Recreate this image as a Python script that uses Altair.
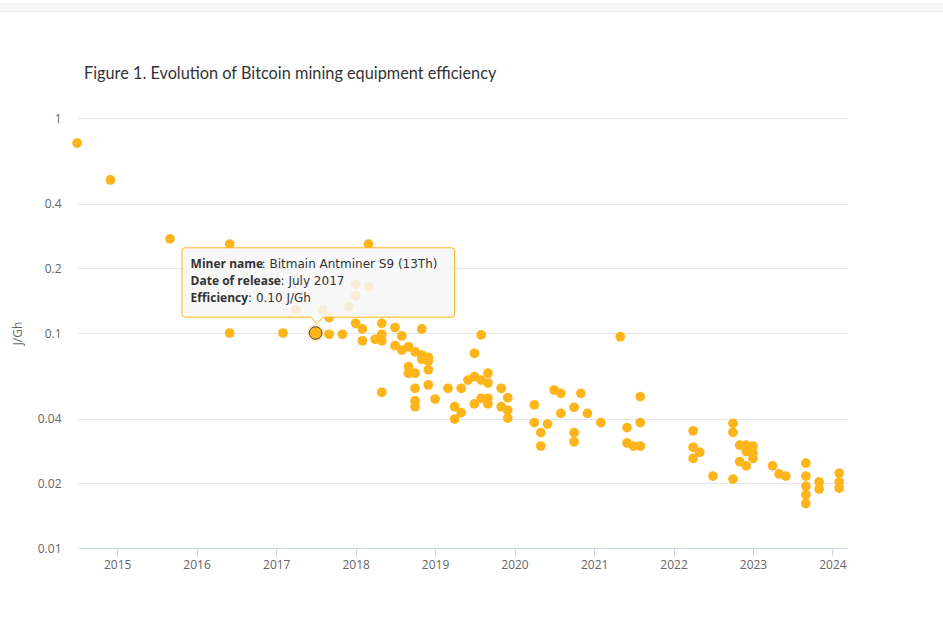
import altair as alt
import pandas as pd

# ---- data ----
release_dates = [
    "2014-07", "2014-12", "2015-09", "2016-06", "2016-06", "2017-02", "2017-07",
    "2017-04", "2017-08", "2017-09", "2017-09", "2017-11", "2017-12", "2018-01",
    "2018-01", "2018-03", "2018-03", "2018-01", "2018-02", "2018-02", "2018-04",
    "2018-05", "2018-05", "2018-05", "2018-07", "2018-07", "2018-08", "2018-08",
    "2018-09", "2018-10", "2018-11", "2018-11", "2018-12", "2018-11", "2018-12",
    "2018-09", "2018-09", "2018-10", "2018-12", "2018-12", "2018-10", "2018-05",
    "2018-10", "2018-10", "2019-01", "2019-03", "2019-04", "2019-04", "2019-05",
    "2019-05", "2019-06", "2019-07", "2019-07", "2019-07", "2019-08", "2019-08",
    "2019-08", "2019-09", "2019-09", "2019-09", "2019-09", "2019-11", "2019-11",
    "2019-12", "2019-12", "2019-12", "2020-04", "2020-04", "2020-05", "2020-05",
    "2020-06", "2020-07", "2020-08", "2020-08", "2020-10", "2020-10", "2020-10",
    "2020-11", "2020-12", "2021-02", "2021-05", "2021-06", "2021-06", "2021-07",
    "2021-08", "2021-08", "2021-08", "2022-04", "2022-04", "2022-05", "2022-04",
    "2022-07", "2022-10", "2022-10", "2022-10", "2022-11", "2022-12", "2023-01",
    "2022-12", "2023-01", "2023-01", "2022-11", "2022-12", "2023-04", "2023-05",
    "2023-06", "2023-09", "2023-09", "2023-09", "2023-09", "2023-09", "2023-11",
    "2023-11", "2024-02", "2024-02", "2024-02",
]
efficiency_j_per_gh = [
    0.765, 0.515, 0.274, 0.259, 0.100, 0.100, 0.100,
    0.128, 0.128, 0.118, 0.0986, 0.0986, 0.1325, 0.168,
    0.149, 0.164, 0.259, 0.111, 0.1044, 0.092, 0.0935,
    0.111, 0.0986, 0.092, 0.106, 0.0873, 0.0969, 0.0833,
    0.0863, 0.0818, 0.1044, 0.079, 0.077, 0.0755, 0.074,
    0.0697, 0.065, 0.065, 0.0675, 0.0573, 0.0553, 0.053,
    0.0484, 0.0454, 0.0493, 0.0553, 0.0454, 0.0398, 0.0553,
    0.0426, 0.0604, 0.0626, 0.0805, 0.0468, 0.098, 0.0604,
    0.0497, 0.065, 0.0585, 0.0497, 0.0468, 0.0553, 0.0454,
    0.050, 0.0438, 0.0402, 0.0463, 0.0383, 0.0344, 0.0298,
    0.0377, 0.0543, 0.0524, 0.0423, 0.0451, 0.0344, 0.0312,
    0.0524, 0.0423, 0.0383, 0.0961, 0.0363, 0.0308, 0.0298,
    0.0298, 0.0506, 0.0383, 0.0351, 0.0294, 0.0279, 0.0261,
    0.0216, 0.038, 0.0345, 0.0209, 0.0301, 0.0301, 0.0298,
    0.0281, 0.0276, 0.0261, 0.0252, 0.0241, 0.0241, 0.0221,
    0.0216, 0.0248, 0.0216, 0.0194, 0.0177, 0.0161, 0.0203,
    0.0188, 0.0223, 0.0203, 0.019,
]

highlight_date = "2017-07"
highlight_value = 0.10
tooltip_labels = ["Miner name", "Date of release", "Efficiency"]
tooltip_values = [": Bitmain Antminer S9 (13Th)", ": July 2017", ": 0.10 J/Gh"]

title_text = "Figure 1. Evolution of Bitcoin mining equipment efficiency"
y_title = "J/Gh"
y_ticks = [0.01, 0.02, 0.04, 0.1, 0.2, 0.4, 1]
x_tick_years = list(range(2015, 2025))

# ---- styling ----
POINT = "#FDB51B"
FONT = "Open Sans"
W, H = 769, 430
PAD_L, PAD_T = 78, 118

df = pd.DataFrame({"date": [d + "-01" for d in release_dates],
                   "eff": efficiency_j_per_gh})
hl = pd.DataFrame({"date": [highlight_date + "-01"], "eff": [highlight_value]})

xscale = alt.Scale(type="utc", nice=False,
                   domain=[alt.DateTime(year=2014, month=7, date=5, utc=True),
                           alt.DateTime(year=2024, month=3, date=8, utc=True)])
yscale = alt.Scale(type="log", domain=[0.01, 1], nice=False)

x_enc = alt.X("date:T", scale=xscale, axis=alt.Axis(
    title=None, grid=False,
    values=[alt.DateTime(year=y, month=1, date=1, utc=True) for y in x_tick_years],
    format="%Y", formatType="utc",
    domainColor="#ccd6eb", tickColor="#ccd6eb", tickSize=8,
    labelFont=FONT, labelFontSize=12, labelColor="#666666", labelPadding=3))
y_enc = alt.Y("eff:Q", scale=yscale, axis=alt.Axis(
    title=y_title, values=y_ticks, format="~g",
    grid=True, gridColor="#e6e6e6", domain=False, ticks=False,
    labelFont=FONT, labelFontSize=12, labelColor="#666666", labelPadding=17,
    titleFont=FONT, titleFontSize=12, titleColor="#666666", titleFontWeight="normal",
    titleX=-61, titleY=215, titleAlign="center", titleBaseline="middle", titleAngle=-90))

points = alt.Chart(df).mark_circle(size=95, color=POINT, opacity=1).encode(x=x_enc, y=y_enc)

halo = alt.Chart(hl).mark_circle(size=314, color=POINT, opacity=0.25).encode(
    x="date:T", y="eff:Q")
hl_pt = alt.Chart(hl).mark_point(size=160, filled=True, fill=POINT, stroke="#444444",
                                 strokeWidth=1, opacity=1).encode(x="date:T", y="eff:Q")

callout_path = ("M-130.6,-85.2 L136,-85.2 Q139,-85.2 139,-82.2 L139,-18.8 "
                "Q139,-15.8 136,-15.8 L7.4,-15.8 L1.4,-9.2 L-4.6,-15.8 L-130.6,-15.8 "
                "Q-133.6,-15.8 -133.6,-18.8 L-133.6,-82.2 Q-133.6,-85.2 -130.6,-85.2 Z")
callout = alt.Chart(hl).mark_point(shape=callout_path, size=4, filled=True,
                                   fill="#f7f7f7", fillOpacity=0.86,
                                   stroke=POINT, strokeWidth=1, strokeOpacity=1).encode(
    x="date:T", y="eff:Q")

line_dy = [-65.5, -48.5, -31.5]
value_dx = [-54, -35, -67.6]
tip_layers = []
for i in range(3):
    tip_layers.append(alt.Chart(hl).mark_text(
        text=tooltip_labels[i], align="left", baseline="alphabetic", dx=-125, dy=line_dy[i],
        font=FONT, fontSize=12, fontWeight="bold", color="#333333").encode(x="date:T", y="eff:Q"))
    tip_layers.append(alt.Chart(hl).mark_text(
        text=tooltip_values[i], align="left", baseline="alphabetic", dx=value_dx[i], dy=line_dy[i],
        font="DejaVu Sans", fontSize=12, color="#333333").encode(x="date:T", y="eff:Q"))

one = pd.DataFrame({"t": [title_text]})
title = alt.Chart(one).mark_text(align="left", baseline="alphabetic", font="Lato",
                                 fontSize=16.3, color="#333333").encode(
    x=alt.value(6), y=alt.value(-39), text="t:N")
band = alt.Chart(one).mark_rect(color="#f5f6f8").encode(
    x=alt.value(-PAD_L), x2=alt.value(943 - PAD_L), y=alt.value(3 - PAD_T), y2=alt.value(12 - PAD_T))
band_line = alt.Chart(one).mark_rule(color="#ebedf0", strokeWidth=1).encode(
    x=alt.value(-PAD_L), x2=alt.value(943 - PAD_L), y=alt.value(11.5 - PAD_T))

chart = alt.layer(points, halo, hl_pt, callout, *tip_layers, title, band, band_line).properties(
    width=W, height=H,
    autosize=alt.AutoSizeParams(type="none"),
    padding={"left": PAD_L, "top": PAD_T, "right": 943 - PAD_L - W, "bottom": 644 - PAD_T - H},
    background="white",
).configure_view(stroke=None)

chart.save("out.html", embed_options={"renderer": "svg", "actions": False})
